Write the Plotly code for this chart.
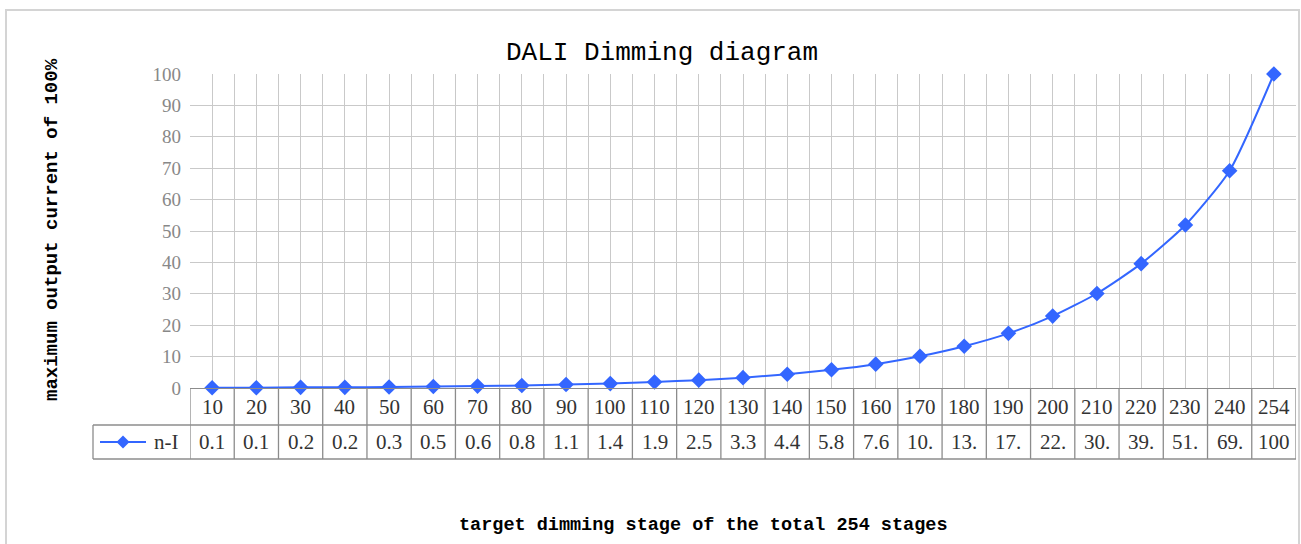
import plotly.graph_objects as go

# ---------------- data ----------------
stages = [10, 20, 30, 40, 50, 60, 70, 80, 90, 100, 110, 120, 130, 140, 150,
          160, 170, 180, 190, 200, 210, 220, 230, 240, 254]
current_pct = [0.1, 0.1, 0.2, 0.2, 0.3, 0.5, 0.6, 0.8, 1.1, 1.4, 1.9, 2.5, 3.3,
               4.4, 5.8, 7.6, 10.1, 13.3, 17.4, 22.9, 30.1, 39.6, 51.9, 69.2, 100]
series_name = "n-I"
y_ticks = [0, 10, 20, 30, 40, 50, 60, 70, 80, 90, 100]
title_text = "DALI Dimming diagram"
x_title = "target dimming stage of the total 254 stages"
y_title = "maximum output current of 100%"

# ---------------- layout helpers (pixel -> paper) ----------------
W, H = 1301, 544
L, R, T, B = 190, 1296, 74, 388
PW, PH = R - L, B - T


def px(x):
    return (x - L) / PW


def py(y):
    return (B - y) / PH


BLUE = "#3366ff"
GRID = "#c9c9c9"
TABLE = "#8c8c8c"
TXT = "#333333"
SERIF = "Liberation Serif"
MONO = "Liberation Mono"

idx = list(range(len(stages)))

fig = go.Figure()
fig.add_trace(go.Scatter(
    x=idx, y=current_pct, mode="lines+markers", name=series_name,
    line=dict(color=BLUE, width=2, shape="spline", smoothing=0.6),
    marker=dict(symbol="diamond", size=12, color=BLUE),
    cliponaxis=False, showlegend=False,
))

shapes = []
annotations = []

# data table: vertical cell borders at category boundaries
for k in range(len(stages) + 1):
    shapes.append(dict(type="line", xref="x", yref="paper",
                       x0=k - 0.5, x1=k - 0.5, y0=py(388), y1=py(459),
                       line=dict(color=TABLE, width=1.3)))
# horizontal borders
for yy in (425, 459):
    shapes.append(dict(type="line", xref="paper", yref="paper",
                       x0=px(93), x1=1, y0=py(yy), y1=py(yy),
                       line=dict(color=TABLE, width=1.3)))
shapes.append(dict(type="line", xref="paper", yref="paper",
                   x0=px(93), x1=px(93), y0=py(425), y1=py(459),
                   line=dict(color=TABLE, width=1.3)))

# table text
for i, (s, v) in enumerate(zip(stages, current_pct)):
    annotations.append(dict(x=i, y=py(407), xref="x", yref="paper",
                            xanchor="center", yanchor="middle",
                            text=str(s), showarrow=False,
                            font=dict(family=SERIF, size=21, color=TXT)))
    lbl = f"{v:.1f}"[:3]
    annotations.append(dict(x=i, y=py(442), xref="x", yref="paper",
                            xanchor="center", yanchor="middle",
                            text=lbl, showarrow=False,
                            font=dict(family=SERIF, size=21, color=TXT)))

# legend key in the table
shapes.append(dict(type="line", xref="paper", yref="paper",
                   x0=px(100), x1=px(146), y0=py(442), y1=py(442),
                   line=dict(color=BLUE, width=2)))
cx, cy, d = 123, 442, 6.5
shapes.append(dict(type="path", xref="paper", yref="paper",
                   path=(f"M {px(cx - d)} {py(cy)} L {px(cx)} {py(cy - d)} "
                         f"L {px(cx + d)} {py(cy)} L {px(cx)} {py(cy + d)} Z"),
                   fillcolor=BLUE, line=dict(color=BLUE, width=0)))
annotations.append(dict(x=px(152), y=py(442), xref="paper", yref="paper",
                        xanchor="left", yanchor="middle",
                        text=series_name, showarrow=False,
                        font=dict(family=SERIF, size=21, color=TXT)))

# outer chart border
shapes.append(dict(type="rect", xref="paper", yref="paper",
                   x0=px(6), x1=px(1299), y0=py(600), y1=py(10),
                   line=dict(color="#d4d4d4", width=2), layer="below"))

# titles
annotations.append(dict(x=px(662), y=py(53), xref="paper", yref="paper",
                        xanchor="center", yanchor="middle",
                        text=title_text, showarrow=False,
                        font=dict(family=MONO, size=26, color="#000000")))
annotations.append(dict(x=px(703), y=py(525), xref="paper", yref="paper",
                        xanchor="center", yanchor="middle",
                        text=f"<b>{x_title}</b>", showarrow=False,
                        font=dict(family=MONO, size=18.5, color="#000000")))
annotations.append(dict(x=px(52), y=py(230), xref="paper", yref="paper",
                        xanchor="center", yanchor="middle",
                        text=f"<b>{y_title}</b>", showarrow=False, textangle=-90,
                        font=dict(family=MONO, size=19, color="#000000")))

fig.update_layout(
    width=W, height=H,
    margin=dict(l=L, r=W - R, t=T, b=H - B, pad=0),
    paper_bgcolor="white", plot_bgcolor="white",
    shapes=shapes, annotations=annotations,
    xaxis=dict(range=[-0.5, len(stages) - 0.5], tickvals=idx,
               showticklabels=False, ticks="", showgrid=True, gridcolor=GRID,
               gridwidth=1.3, zeroline=False,
               minor=dict(tick0=-0.5, dtick=1, showgrid=True, gridcolor=GRID,
                          gridwidth=1.3, ticks=""),
               showline=True, linecolor=TABLE, linewidth=1.3, fixedrange=True),
    yaxis=dict(range=[0, 100], tickvals=y_ticks, ticks="", showgrid=True,
               gridcolor=GRID, gridwidth=1.3, zeroline=False, showline=False,
               ticklabelstandoff=8,
               tickfont=dict(family=SERIF, size=19, color="#888888"),
               fixedrange=True),
)

fig.write_html("out.html",
               config={"displayModeBar": False},
               post_script="document.body.style.margin='0px';"
                           "document.body.style.overflow='hidden';")
